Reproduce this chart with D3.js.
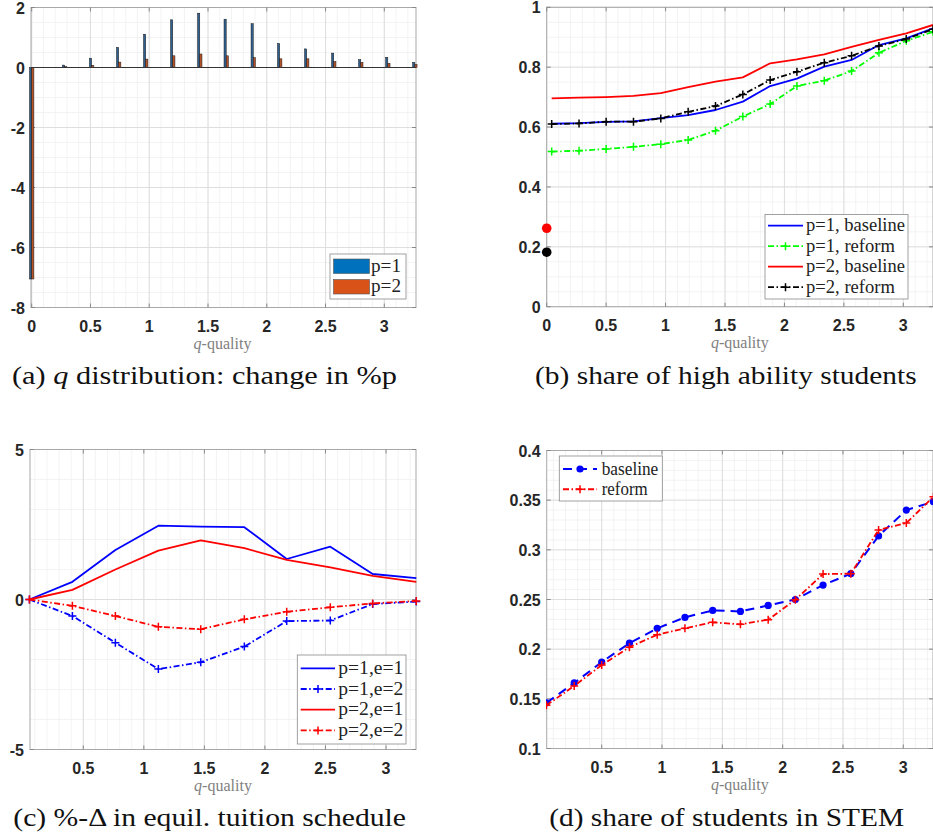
<!DOCTYPE html>
<html>
<head>
<meta charset="utf-8">
<script src="https://cdn.jsdelivr.net/npm/d3@7"></script>
<style>
  html, body { margin: 0; padding: 0; background: #fff; }
  svg { display: block; }
</style>
</head>
<body>
<svg id="chart" width="933" height="837"></svg>
<script>
// ---------------- DATA ----------------
// (a) q distribution: change in %p  (grouped bars)
const barQ   = [0, 0.28, 0.51, 0.74, 0.97, 1.20, 1.43, 1.655, 1.885, 2.11, 2.34, 2.57, 2.80, 3.03, 3.26];
const barP1  = [-7.05, 0.08, 0.31, 0.67, 1.11, 1.59, 1.81, 1.61, 1.46, 0.80, 0.62, 0.48, 0.26, 0.34, 0.17];
const barP2  = [-7.05, 0.03, 0.07, 0.18, 0.28, 0.39, 0.45, 0.39, 0.33, 0.29, 0.29, 0.20, 0.17, 0.14, 0.10];
const barSeries = ["p=1", "p=2"];

// (b) share of high ability students
const qGrid     = [0.042, 0.272, 0.50, 0.73, 0.96, 1.19, 1.42, 1.65, 1.88, 2.105, 2.335, 2.565, 2.795, 3.025, 3.25];
const hiP1Base  = [0.611, 0.613, 0.617, 0.619, 0.630, 0.640, 0.657, 0.685, 0.737, 0.762, 0.802, 0.824, 0.874, 0.896, 0.930];
const hiP1Ref   = [0.518, 0.521, 0.527, 0.534, 0.543, 0.557, 0.588, 0.635, 0.677, 0.737, 0.755, 0.787, 0.848, 0.888, 0.918];
const hiP2Base  = [0.696, 0.698, 0.700, 0.704, 0.713, 0.733, 0.752, 0.766, 0.813, 0.826, 0.843, 0.868, 0.891, 0.913, 0.941];
const hiP2Ref   = [0.610, 0.612, 0.618, 0.618, 0.629, 0.651, 0.670, 0.709, 0.757, 0.785, 0.815, 0.838, 0.871, 0.894, 0.927];
const hiOutsideQ = 0;
const hiOutsideBase = 0.262;
const hiOutsideRef  = 0.182;
const hiLabels = ["p=1, baseline", "p=1, reform", "p=2, baseline", "p=2, reform"];

// (c) %-Delta in equilibrium tuition schedule
const qTuition = [0.055, 0.41, 0.765, 1.12, 1.47, 1.83, 2.18, 2.54, 2.89, 3.25];
const tP1E1 = [0, 0.59, 1.65, 2.46, 2.43, 2.41, 1.35, 1.76, 0.85, 0.71];
const tP1E2 = [0, -0.55, -1.44, -2.32, -2.09, -1.57, -0.72, -0.70, -0.15, -0.07];
const tP2E1 = [0, 0.32, 1.00, 1.63, 1.97, 1.71, 1.32, 1.07, 0.79, 0.59];
const tP2E2 = [0, -0.21, -0.55, -0.91, -0.99, -0.66, -0.41, -0.26, -0.13, -0.05];
const tLabels = ["p=1,e=1", "p=1,e=2", "p=2,e=1", "p=2,e=2"];

// (d) share of students in STEM
const stemBase = [0.146, 0.166, 0.187, 0.206, 0.221, 0.232, 0.239, 0.238, 0.244, 0.250, 0.2645, 0.276, 0.314, 0.340, 0.3485];
const stemRef  = [0.1435, 0.163, 0.184, 0.202, 0.2145, 0.221, 0.227, 0.225, 0.2297, 0.2497, 0.2756, 0.276, 0.320, 0.327, 0.3535];
const stemLabels = ["baseline", "reform"];

// tick labels
const ticksA_x = [0, 0.5, 1, 1.5, 2, 2.5, 3];
const ticksA_y = [-8, -6, -4, -2, 0, 2];
const ticksB_x = [0, 0.5, 1, 1.5, 2, 2.5, 3];
const ticksB_y = [0, 0.2, 0.4, 0.6, 0.8, 1];
const ticksC_x = [0.5, 1, 1.5, 2, 2.5, 3];
const ticksC_y = [-5, 0, 5];
const ticksD_x = [0.5, 1, 1.5, 2, 2.5, 3];
const ticksD_y = [0.1, 0.15, 0.2, 0.25, 0.3, 0.35, 0.4];

const captions = [
  "(a) ", "q", " distribution: change in %p",
  "(b) share of high ability students",
  "(c) %-\u0394 in equil. tuition schedule",
  "(d) share of students in STEM"
];

// ---------------- DRAWING ----------------
const SANS = "'Liberation Sans', Arimo, Arial, Helvetica, sans-serif";
const SERIF = "'Liberation Serif', 'Times New Roman', Tinos, serif";
const svg = d3.select("#chart");
const C_BLUE = "#0000ff", C_RED = "#ff0000", C_GREEN = "#00ff00", C_BLACK = "#000000";
const DASHDOT = "6,2.5,1.5,2.5";

function range(a, b, step) {
  const out = [];
  for (let v = a; v <= b + step * 1e-6; v += step) out.push(+v.toFixed(6));
  return out;
}

function serifText(sel) {
  return sel.attr("font-family", SERIF).style("font-family", SERIF);
}

function drawAxes(cfg) {
  const g = svg.append("g");
  const { x, y, box } = cfg;
  const [x0, x1, y0, y1] = box; // pixel box
  const dx = x.invert(x0), dx1 = x.invert(x1);
  const dy = y.invert(y1), dy1 = y.invert(y0);
  // minor grid
  range(Math.ceil(dx / cfg.xMinor) * cfg.xMinor, dx1, cfg.xMinor).forEach(v => {
    g.append("line").attr("x1", x(v)).attr("x2", x(v)).attr("y1", y0).attr("y2", y1)
      .attr("stroke", "#f0f0f0").attr("stroke-width", 0.8);
  });
  range(Math.ceil(dy / cfg.yMinor) * cfg.yMinor, dy1, cfg.yMinor).forEach(v => {
    g.append("line").attr("y1", y(v)).attr("y2", y(v)).attr("x1", x0).attr("x2", x1)
      .attr("stroke", "#f0f0f0").attr("stroke-width", 0.8);
  });
  // major grid
  cfg.xTicks.forEach(v => {
    g.append("line").attr("x1", x(v)).attr("x2", x(v)).attr("y1", y0).attr("y2", y1)
      .attr("stroke", "#dedede").attr("stroke-width", 1);
  });
  cfg.yTicks.forEach(v => {
    g.append("line").attr("y1", y(v)).attr("y2", y(v)).attr("x1", x0).attr("x2", x1)
      .attr("stroke", "#dedede").attr("stroke-width", 1);
  });
  // box
  g.append("rect").attr("x", x0).attr("y", y0).attr("width", x1 - x0).attr("height", y1 - y0)
    .attr("fill", "none").attr("stroke", "#a8a8a8").attr("stroke-width", 1);
  // inward ticks
  cfg.xTicks.forEach(v => {
    g.append("line").attr("x1", x(v)).attr("x2", x(v)).attr("y1", y1).attr("y2", y1 - 4).attr("stroke", "#888");
    g.append("line").attr("x1", x(v)).attr("x2", x(v)).attr("y1", y0).attr("y2", y0 + 4).attr("stroke", "#888");
  });
  cfg.yTicks.forEach(v => {
    g.append("line").attr("x1", x0).attr("x2", x0 + 4).attr("y1", y(v)).attr("y2", y(v)).attr("stroke", "#888");
    g.append("line").attr("x1", x1).attr("x2", x1 - 4).attr("y1", y(v)).attr("y2", y(v)).attr("stroke", "#888");
  });
  // tick labels
  const tickText = sel => sel.attr("font-family", SANS).style("font-family", SANS)
    .attr("font-weight", "bold").style("font-weight", "bold")
    .attr("font-size", 16).attr("fill", "#262626");
  cfg.xTicks.forEach(v => {
    g.append("text").call(tickText).attr("x", x(v)).attr("y", y1 + 24)
      .attr("text-anchor", "middle").text(String(v));
  });
  cfg.yTicks.forEach(v => {
    g.append("text").call(tickText).attr("x", x0 - 6).attr("y", y(v) + 6)
      .attr("text-anchor", "end").text(String(v));
  });
  // x label
  const xl = g.append("text").call(serifText).attr("x", (x0 + x1) / 2 + cfg.xlabelDx)
    .attr("y", y1 + 41).attr("text-anchor", "middle").attr("font-size", 16).attr("fill", "#808080");
  xl.append("tspan").attr("font-style", "italic").text("q");
  xl.append("tspan").text("-quality");
  return g;
}

function caption(parts, xStart, baseline, width) {
  const t = svg.append("text").call(serifText).attr("x", xStart).attr("y", baseline)
    .attr("font-size", 25).attr("fill", "#111")
    .attr("textLength", width).attr("lengthAdjust", "spacingAndGlyphs");
  parts.forEach(p => {
    const s = t.append("tspan").text(p.text);
    if (p.italic) s.attr("font-style", "italic");
  });
}

function plus(g, cx, cy, color, s) {
  s = s || 4;
  g.append("path").attr("d", `M${cx - s},${cy}H${cx + s}M${cx},${cy - s}V${cy + s}`)
    .attr("stroke", color).attr("stroke-width", 1.5).attr("fill", "none");
}

function lineSeries(g, x, y, xs, ys, color, dash, marker, width) {
  const line = d3.line().x((d, i) => x(xs[i])).y(d => y(d));
  g.append("path").datum(ys).attr("d", line).attr("fill", "none")
    .attr("stroke", color).attr("stroke-width", width || 1.8)
    .attr("stroke-dasharray", dash || null).attr("stroke-linejoin", "round");
  if (marker === "plus") ys.forEach((v, i) => plus(g, x(xs[i]), y(v), color));
  if (marker === "dot") ys.forEach((v, i) => g.append("circle").attr("cx", x(xs[i])).attr("cy", y(v))
    .attr("r", 3.6).attr("fill", color));
}

function clip(id, box) {
  svg.append("clipPath").attr("id", id).append("rect")
    .attr("x", box[0]).attr("y", box[2]).attr("width", box[1] - box[0]).attr("height", box[3] - box[2]);
}

function legendText(g, x, y, txt, width) {
  return g.append("text").call(serifText).attr("x", x).attr("y", y)
    .attr("font-size", 18).attr("fill", "#222")
    .attr("textLength", width).attr("lengthAdjust", "spacingAndGlyphs").text(txt);
}

// ---------- Panel (a) ----------
{
  const x = d3.scaleLinear().domain([0, 3]).range([31.7, 384.3]);
  const y = d3.scaleLinear().domain([-8, 2]).range([307.5, 7.5]);
  const box = [31, 416, 7.5, 307.5];
  drawAxes({ x, y, box, xTicks: ticksA_x, yTicks: ticksA_y, xMinor: 0.1, yMinor: 0.5, xlabelDx: -1 });
  const g = svg.append("g");
  const bw = 2.2;
  const xs = d3.scaleBand().domain(barSeries).range([-bw, bw]);
  const cols = { "p=1": "#2f5f8f", "p=2": "#b4532a" };
  barQ.forEach((q, i) => {
    [barP1[i], barP2[i]].forEach((v, k) => {
      const s = barSeries[k];
      const cx = x(q) + xs(s);
      g.append("rect").attr("x", cx).attr("width", xs.bandwidth())
        .attr("y", Math.min(y(v), y(0))).attr("height", Math.abs(y(v) - y(0)))
        .attr("fill", cols[s]).attr("stroke", "#1a1a1a").attr("stroke-width", 0.5);
    });
  });
  // baseline
  g.append("line").attr("x1", 31).attr("x2", 416).attr("y1", y(0)).attr("y2", y(0))
    .attr("stroke", "#333").attr("stroke-width", 1);
  // legend
  const lg = svg.append("g");
  lg.append("rect").attr("x", 330).attr("y", 254).attr("width", 76).attr("height", 45)
    .attr("fill", "#fff").attr("stroke", "#8a8a8a").attr("stroke-width", 0.8);
  const legCols = { "p=1": "#0072BD", "p=2": "#D95319" };
  barSeries.forEach((s, i) => {
    const yy = 259 + i * 20.5;
    lg.append("rect").attr("x", 333.5).attr("y", yy).attr("width", 36).attr("height", 14.5)
      .attr("fill", legCols[s]).attr("stroke", "#555").attr("stroke-width", 0.6);
    legendText(lg, 371, yy + 12.5, s, 30);
  });
  caption([{ text: "(a) " }, { text: "q", italic: true }, { text: " distribution: change in %p" }], 12, 384, 385);
}

// ---------- Panel (b) ----------
{
  const x = d3.scaleLinear().domain([0, 3]).range([546.7, 903.3]);
  const y = d3.scaleLinear().domain([0, 1]).range([306.7, 7.3]);
  const box = [546.7, 933, 7.3, 306.7];
  drawAxes({ x, y, box, xTicks: ticksB_x, yTicks: ticksB_y, xMinor: 0.1, yMinor: 0.05, xlabelDx: 0 });
  clip("clipB", [546, 933, 0, 307]);
  const g = svg.append("g").attr("clip-path", "url(#clipB)");
  lineSeries(g, x, y, qGrid, hiP1Base, C_BLUE, null, null);
  lineSeries(g, x, y, qGrid, hiP1Ref, C_GREEN, DASHDOT, "plus");
  lineSeries(g, x, y, qGrid, hiP2Base, C_RED, null, null);
  lineSeries(g, x, y, qGrid, hiP2Ref, C_BLACK, DASHDOT, "plus");
  svg.append("circle").attr("cx", x(hiOutsideQ)).attr("cy", y(hiOutsideBase)).attr("r", 4.8).attr("fill", C_RED);
  svg.append("circle").attr("cx", x(hiOutsideQ)).attr("cy", y(hiOutsideRef)).attr("r", 4.8).attr("fill", C_BLACK);
  // legend
  const lg = svg.append("g");
  lg.append("rect").attr("x", 765).attr("y", 214.5).attr("width", 143).attr("height", 84.5)
    .attr("fill", "#fff").attr("stroke", "#8a8a8a").attr("stroke-width", 0.8);
  const specs = [[C_BLUE, null, false], [C_GREEN, DASHDOT, true], [C_RED, null, false], [C_BLACK, DASHDOT, true]];
  const widths = [99, 89, 99, 89];
  hiLabels.forEach((lab, i) => {
    const yy = 225.7 + i * 20.5;
    lg.append("line").attr("x1", 768).attr("x2", 803).attr("y1", yy).attr("y2", yy)
      .attr("stroke", specs[i][0]).attr("stroke-width", 1.8).attr("stroke-dasharray", specs[i][1]);
    if (specs[i][2]) plus(lg, 785.5, yy, specs[i][0]);
    legendText(lg, 806, yy + 5.5, lab, widths[i]);
  });
  caption([{ text: captions[3] }], 535, 384, 381.7);
}

// ---------- Panel (c) ----------
{
  const x = d3.scaleLinear().domain([0.5, 3]).range([83.3, 386]);
  const y = d3.scaleLinear().domain([-5, 5]).range([749.5, 449.5]);
  const box = [30, 416, 449.5, 749.5];
  drawAxes({ x, y, box, xTicks: ticksC_x, yTicks: ticksC_y, xMinor: 0.1, yMinor: 1, xlabelDx: 0 });
  const g = svg.append("g");
  lineSeries(g, x, y, qTuition, tP1E1, C_BLUE, null, null);
  lineSeries(g, x, y, qTuition, tP1E2, C_BLUE, DASHDOT, "plus");
  lineSeries(g, x, y, qTuition, tP2E1, C_RED, null, null);
  lineSeries(g, x, y, qTuition, tP2E2, C_RED, DASHDOT, "plus");
  const lg = svg.append("g");
  lg.append("rect").attr("x", 297.3).attr("y", 655).attr("width", 108.7).attr("height", 89)
    .attr("fill", "#fff").attr("stroke", "#8a8a8a").attr("stroke-width", 0.8);
  const specs = [[C_BLUE, null, false], [C_BLUE, DASHDOT, true], [C_RED, null, false], [C_RED, DASHDOT, true]];
  tLabels.forEach((lab, i) => {
    const yy = 668.3 + i * 20.7;
    lg.append("line").attr("x1", 300.7).attr("x2", 335).attr("y1", yy).attr("y2", yy)
      .attr("stroke", specs[i][0]).attr("stroke-width", 1.8).attr("stroke-dasharray", specs[i][1]);
    if (specs[i][2]) plus(lg, 318, yy, specs[i][0]);
    legendText(lg, 338.3, yy + 5.5, lab, 65);
  });
  caption([{ text: captions[4] }], 13.3, 826, 392.7);
}

// ---------- Panel (d) ----------
{
  const x = d3.scaleLinear().domain([0.5, 3]).range([601.7, 903.3]);
  const y = d3.scaleLinear().domain([0.1, 0.4]).range([748.5, 450.5]);
  const box = [546.7, 933, 450.5, 748.5];
  drawAxes({ x, y, box, xTicks: ticksD_x, yTicks: ticksD_y, xMinor: 0.1, yMinor: 0.01, xlabelDx: 0 });
  clip("clipD", [546, 933, 440, 749]);
  const g = svg.append("g").attr("clip-path", "url(#clipD)");
  lineSeries(g, x, y, qGrid, stemBase, C_BLUE, "9,6", "dot", 2);
  lineSeries(g, x, y, qGrid, stemRef, C_RED, DASHDOT, "plus");
  const lg = svg.append("g");
  lg.append("rect").attr("x", 559.3).attr("y", 456).attr("width", 103).attr("height", 45)
    .attr("fill", "#fff").attr("stroke", "#8a8a8a").attr("stroke-width", 0.8);
  const specs = [[C_BLUE, "9,6", "dot"], [C_RED, DASHDOT, "plus"]];
  const widths = [56.6, 46];
  stemLabels.forEach((lab, i) => {
    const yy = 469 + i * 20.3;
    lg.append("line").attr("x1", 563).attr("x2", 597).attr("y1", yy).attr("y2", yy)
      .attr("stroke", specs[i][0]).attr("stroke-width", 2).attr("stroke-dasharray", specs[i][1]);
    if (specs[i][2] === "dot") lg.append("circle").attr("cx", 580).attr("cy", yy).attr("r", 3.6).attr("fill", specs[i][0]);
    else plus(lg, 580, yy, specs[i][0]);
    legendText(lg, 601.7, yy + 5.5, lab, widths[i]);
  });
  caption([{ text: captions[5] }], 549.3, 826, 354.7);
}
</script>
</body>
</html>
